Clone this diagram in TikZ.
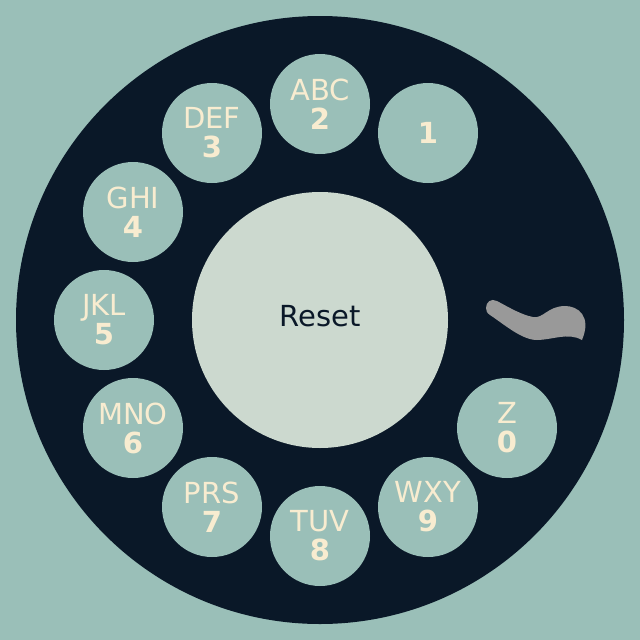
\documentclass[tikz,border=0pt]{standalone}
\usepackage{fontspec}
\setmainfont{DejaVu Sans}
\definecolor{dialbg}{HTML}{9ABFB8}
\definecolor{dialdark}{HTML}{0A1828}
\definecolor{dialcream}{HTML}{F8ECD0}
\definecolor{dialcenter}{HTML}{CCD9CF}
\definecolor{dialstop}{HTML}{999999}
\tikzset{
    holebox/.style={draw=none, circle, fill=dialbg, text=dialcream, minimum size=100pt, inner sep=0pt, align=center, font=\fontsize{29}{29}\selectfont},
}

\begin{document}
\begin{tikzpicture}[x=1pt,y=-1pt]
    \useasboundingbox (0,0) rectangle (640,640);
    \fill [dialbg] (0,0) rectangle (640,640);
    \node (dial) at (320,320) [circle, fill=dialdark, minimum size=608pt, inner sep=0pt] {};
    \node (reset) at (320,320) [circle, fill=dialcenter, text=dialdark, minimum size=256pt, inner sep=0pt, font=\fontsize{29}{29}\selectfont] {\raisebox{8pt}{Reset}};

    \node (hole1) at (428,133) [holebox] {\textbf{1}};
    \node (hole2) at (320,104) [holebox] {ABC\\\textbf{2}};
    \node (hole3) at (212,133) [holebox] {DEF\\\textbf{3}};
    \node (hole4) at (133,212) [holebox] {GHI\\\textbf{4}};
    \node (hole5) at (104,320) [holebox] {JKL\\\textbf{5}};
    \node (hole6) at (133,428) [holebox] {MNO\\\textbf{6}};
    \node (hole7) at (212,507) [holebox] {PRS\\\textbf{7}};
    \node (hole8) at (320,536) [holebox] {TUV\\\textbf{8}};
    \node (hole9) at (428,507) [holebox] {WXY\\\textbf{9}};
    \node (hole0) at (507,428) [holebox] {Z\\\textbf{0}};

    % finger stop
    \fill [dialstop] (486,308) .. controls (486,302) and (491,298) .. (497,301)
        .. controls (510,308) and (522,315) .. (533,317)
        .. controls (543,319) and (548,306) .. (565,306)
        .. controls (578,306) and (592,316) .. (582,340)
        .. controls (568,332) and (552,340) .. (537,340)
        .. controls (522,340) and (505,325) .. (490,315)
        .. controls (487,313) and (486,311) .. (486,308) -- cycle;
\end{tikzpicture}
\end{document}
